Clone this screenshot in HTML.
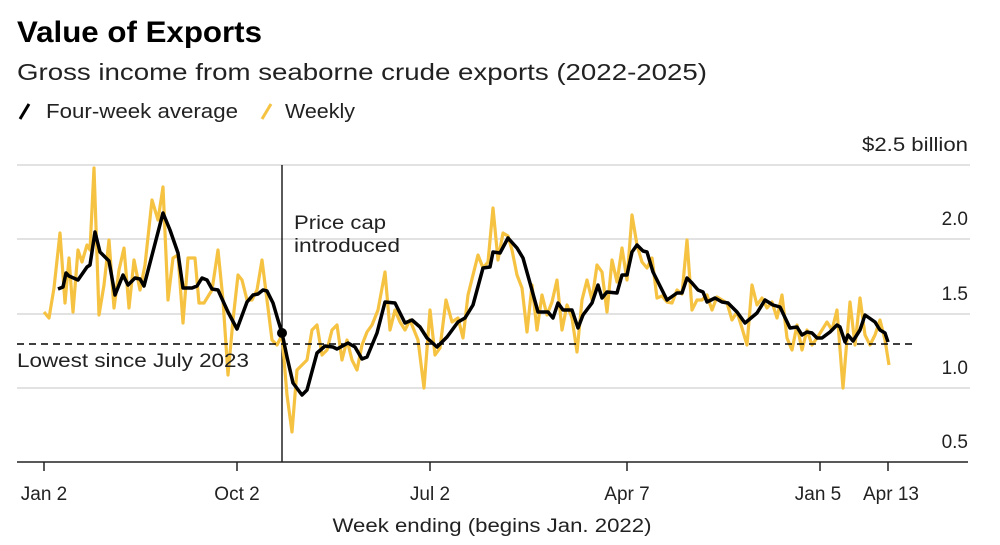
<!DOCTYPE html><html><head><style>body{margin:0;background:#fff;}svg{display:block;font-family:"Liberation Sans",Arial,sans-serif;}</style></head><body>
<svg width="1000" height="545" viewBox="0 0 1000 545">
<text x="17" y="42" font-size="30" font-weight="bold" fill="#000" textLength="245" lengthAdjust="spacingAndGlyphs">Value of Exports</text>
<text x="17" y="80" font-size="23" fill="#222" textLength="690" lengthAdjust="spacingAndGlyphs">Gross income from seaborne crude exports (2022-2025)</text>
<line x1="20" y1="119" x2="29" y2="104" stroke="#000" stroke-width="3"/>
<text x="46" y="118" font-size="20" fill="#222" textLength="192" lengthAdjust="spacingAndGlyphs">Four-week average</text>
<line x1="262" y1="119" x2="271" y2="104" stroke="#f5c242" stroke-width="3"/>
<text x="285" y="118" font-size="20" fill="#222" textLength="70" lengthAdjust="spacingAndGlyphs">Weekly</text>
<g stroke="#d9d9d9" stroke-width="1.5">
<line x1="17" y1="165" x2="970" y2="165"/><line x1="17" y1="239" x2="970" y2="239"/><line x1="17" y1="314" x2="970" y2="314"/><line x1="17" y1="388" x2="970" y2="388"/></g>
<g font-size="19" fill="#222" text-anchor="end"><text x="968" y="151" textLength="106" lengthAdjust="spacingAndGlyphs">$2.5 billion</text><text x="968" y="225">2.0</text><text x="968" y="300">1.5</text><text x="968" y="374">1.0</text><text x="968" y="448">0.5</text></g>
<line x1="282" y1="165" x2="282" y2="462" stroke="#000" stroke-width="1.3"/>
<text x="294" y="229" font-size="19" fill="#222" textLength="92" lengthAdjust="spacingAndGlyphs">Price cap</text><text x="294" y="252" font-size="19" fill="#222" textLength="106" lengthAdjust="spacingAndGlyphs">introduced</text>
<polyline fill="none" stroke="#f5c242" stroke-width="3.2" stroke-linejoin="round" points="44,312 49,318 54,288 60,233 65,303 69,258 73,312 78,250 82,262 87,245 90,250 94,168 99,315 104,285 109,240 114,308 119,270 124,248 129,308 134,260 140,290 145,265 152,200 158,220 163,187 168,300 173,258 178,255 183,323 188,258 195,258 199,303 204,303 212,290 218,250 223,300 228,375 233,320 238,275 242,280 247,300 252,300 257,290 262,260 267,300 272,340 277,345 282,335 287,395 292,432 297,370 302,365 307,360 312,330 317,325 322,355 327,350 332,330 337,325 342,360 347,340 352,360 357,370 362,345 367,332 372,325 378,310 385,272 390,330 395,310 400,322 405,330 410,320 418,340 424,388 430,310 435,355 440,348 446,300 452,322 458,318 463,338 468,295 473,275 478,255 483,268 488,262 493,208 498,260 503,233 508,236 512,250 517,275 522,288 527,332 532,285 537,330 542,295 547,315 552,302 557,280 562,330 567,305 572,318 577,352 582,300 587,280 592,300 597,265 602,272 607,312 612,260 617,282 622,248 627,280 632,215 637,245 642,262 647,268 652,258 657,298 662,296 667,302 672,303 677,290 682,294 687,240 692,310 697,300 702,300 707,295 712,310 717,297 722,300 727,303 732,320 737,312 742,328 747,345 752,285 757,305 762,298 767,308 772,302 777,318 782,295 787,338 792,350 797,325 802,350 807,330 812,345 817,338 822,330 827,322 832,330 837,310 843,388 850,302 855,345 860,298 865,335 870,345 875,335 880,320 885,340 889,365"/>
<line x1="17" y1="344" x2="914" y2="344" stroke="#000" stroke-width="1.5" stroke-dasharray="7,5"/>
<text x="17" y="367" font-size="19" fill="#222" textLength="232" lengthAdjust="spacingAndGlyphs">Lowest since July 2023</text>
<polyline fill="none" stroke="#000" stroke-width="3.5" stroke-linejoin="round" points="58,289 63,287 66,273 69,276 78,280 87,267 90,265 95,232 100,252 106,258 109,261 115,295 123,275 128,285 135,278 140,279 144,286 163,213 170,230 178,253 183,288 192,288 197,286 202,278 207,280 212,289 218,290 228,312 237,329 247,302 253,295 258,294 263,290 267,291 273,303 278,320 282,333 287,357 293,383 302,395 307,390 317,353 325,346 333,347 337,349 348,343 355,347 362,359 367,357 377,333 385,302 395,303 405,323 412,320 420,327 427,338 437,347 447,337 458,322 465,318 473,305 483,268 490,267 493,252 500,253 508,238 517,248 523,258 530,283 538,312 548,312 553,318 558,303 563,310 572,310 578,328 583,315 592,303 598,285 602,298 607,292 617,293 622,275 627,275 632,252 637,245 643,251 647,252 653,272 663,292 667,300 677,293 682,293 687,278 692,283 698,290 703,292 707,302 715,298 722,302 728,303 737,312 745,323 757,313 765,300 773,305 780,307 790,328 797,327 802,335 807,332 812,333 817,338 822,338 830,332 837,325 840,327 845,342 848,335 853,341 860,330 865,315 875,322 880,330 885,333 888,342"/>
<circle cx="282" cy="333" r="5" fill="#000"/>
<line x1="17" y1="462" x2="968" y2="462" stroke="#222" stroke-width="1.5"/>
<g stroke="#222" stroke-width="1.5"><line x1="44" y1="462" x2="44" y2="471"/><line x1="237" y1="462" x2="237" y2="471"/><line x1="430" y1="462" x2="430" y2="471"/><line x1="627" y1="462" x2="627" y2="471"/><line x1="820" y1="462" x2="820" y2="471"/><line x1="888" y1="462" x2="888" y2="471"/></g>
<g font-size="19" fill="#222" text-anchor="middle"><text x="44" y="500">Jan 2</text><text x="237" y="500">Oct 2</text><text x="430" y="500">Jul 2</text><text x="627" y="500">Apr 7</text><text x="818" y="500">Jan 5</text><text x="891" y="500">Apr 13</text><text x="492" y="532" textLength="319" lengthAdjust="spacingAndGlyphs">Week ending (begins Jan. 2022)</text></g>
</svg></body></html>
